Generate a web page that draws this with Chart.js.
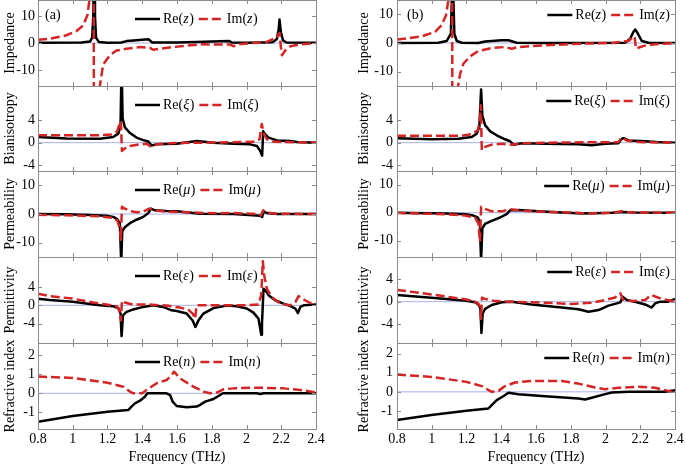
<!DOCTYPE html>
<html>
<head>
<meta charset="utf-8">
<script src="https://cdn.jsdelivr.net/npm/chart.js@4.4.1/dist/chart.umd.min.js"></script>
<style>
  body { margin: 0; background: #fff; width: 685px; height: 467px; overflow: hidden; position: relative; }
  canvas { position: absolute; }
</style>
</head>
<body>
<script>
// tick labels
const freqTicks = [0.8, 1, 1.2, 1.4, 1.6, 1.8, 2, 2.2, 2.4];
const ticksImp = [-10, 0, 10];
const ticksBian = [-4, 0, 4];
const ticksPerm = [-10, 0, 10];
const ticksEps = [-4, 0, 4];
const ticksIdx = [-1, 0, 1, 2];
const zeroLine = [[0.8, 0], [2.4, 0]];

// (a) values, [frequency THz, value]
const reZa = [[0.8,0.1],[1.05,0.2],[1.1,0.6],[1.112,2],[1.118,10],[1.123,30],[1.128,10],[1.134,2],[1.15,0.4],[1.2,0.1],[1.28,0.2],[1.31,0.7],[1.35,0.9],[1.4,1.2],[1.435,1.4],[1.447,0.8],[1.456,0.2],[1.6,0.2],[1.713,0.4],[1.8,0.6],[1.9,0.7],[1.915,0.2],[2.0,0.1],[2.15,0.3],[2.175,1.5],[2.185,5],[2.19,8.7],[2.198,4],[2.21,1],[2.23,0.2],[2.4,0.1]];
const imZa = [[0.8,1.2],[0.87,1.6],[0.96,2.8],[1.02,4.4],[1.06,6.5],[1.085,10.5],[1.1,18],[1.12,40],[1.122,-40],[1.15,-20],[1.156,-16],[1.175,-8],[1.213,-4.6],[1.252,-2.8],[1.31,-2.1],[1.387,-1.5],[1.444,-1.8],[1.463,-2.5],[1.502,-2.1],[1.579,-1.5],[1.733,-0.5],[1.906,-0.6],[1.925,-1.2],[1.963,-0.4],[2.117,0.4],[2.175,2.2],[2.19,3.8],[2.198,-1.5],[2.204,-4.6],[2.223,-2.8],[2.252,-1.2],[2.31,-0.5],[2.4,0]];
const reXa = [[0.8,1.0],[0.963,0.75],[1.156,0.7],[1.233,1.0],[1.262,1.6],[1.275,2.9],[1.281,14],[1.287,4.3],[1.3,2.7],[1.329,1.7],[1.367,0.9],[1.406,0.45],[1.435,0.2],[1.454,-0.5],[1.483,-0.3],[1.598,-0.2],[1.713,0.3],[1.81,0],[1.925,-0.2],[2.021,-0.3],[2.06,-0.6],[2.079,-1.45],[2.09,-2.3],[2.096,2.0],[2.108,1.45],[2.127,0.9],[2.175,0.4],[2.252,0.3],[2.29,0.1],[2.4,0]];
const imXa = [[0.8,1.3],[1.156,1.3],[1.223,1.45],[1.256,2.0],[1.271,3.5],[1.277,3.8],[1.283,-1.45],[1.3,-1.0],[1.329,-0.6],[1.387,-0.3],[1.425,-0.2],[1.448,-0.65],[1.483,-0.3],[1.579,-0.05],[1.75,0],[2.04,0.15],[2.075,0.6],[2.088,3.3],[2.098,1.7],[2.117,0.6],[2.156,0.15],[2.4,0]];
const reMa = [[0.8,0],[0.963,-0.1],[1.098,-0.35],[1.194,-0.6],[1.233,-1],[1.256,-1.8],[1.271,-3.2],[1.279,-17],[1.285,-6],[1.3,-4.6],[1.329,-3.2],[1.367,-2],[1.406,-1],[1.435,0.35],[1.45,1.9],[1.473,1.3],[1.54,1.05],[1.598,0.95],[1.656,0.6],[1.733,0.1],[1.925,0],[2.079,-0.6],[2.09,-1.05],[2.098,0.95],[2.117,0.35],[2.175,0],[2.4,0]];
const imMa = [[0.8,-0.25],[0.963,-0.45],[1.156,-0.8],[1.233,-1.4],[1.256,-2.2],[1.271,-5],[1.277,-9],[1.283,2.5],[1.3,1.9],[1.329,1.05],[1.367,0.6],[1.406,0.8],[1.44,1.9],[1.463,1.3],[1.54,0.8],[1.637,0.6],[1.829,0.25],[1.925,0.35],[2.06,0],[2.083,-0.5],[2.096,1.3],[2.117,0.5],[2.175,0.1],[2.4,0]];
const reEa = [[0.8,1.45],[0.867,1.15],[1.0,0.75],[1.156,0],[1.233,-0.2],[1.262,-0.6],[1.275,-1.8],[1.281,-6.7],[1.289,-2.2],[1.31,-1.45],[1.348,-0.9],[1.406,-0.35],[1.463,0],[1.521,-0.35],[1.569,-1.1],[1.598,-1.25],[1.656,-1.8],[1.69,-3.3],[1.706,-4.7],[1.723,-3.3],[1.752,-1.8],[1.81,-0.6],[1.887,-0.07],[1.944,-0.2],[2.002,-0.7],[2.04,-1.6],[2.069,-2.9],[2.085,-6.4],[2.089,-4],[2.098,3.6],[2.108,3.3],[2.127,2.2],[2.165,1.1],[2.213,0.35],[2.252,-0.15],[2.281,-0.7],[2.296,-1.7],[2.31,-0.35],[2.329,0],[2.4,0.15]];
const imEa = [[0.8,2.5],[0.867,2.0],[1.0,1.45],[1.117,0.6],[1.194,0.15],[1.252,-0.2],[1.268,-1.1],[1.277,-3.3],[1.283,1.0],[1.3,0.6],[1.348,0.15],[1.444,0.15],[1.54,-0.07],[1.617,-0.5],[1.665,-0.95],[1.69,-1.8],[1.704,-2.9],[1.713,0],[1.8,0],[2.0,0],[2.069,0.15],[2.085,2.2],[2.094,9.6],[2.102,6.5],[2.117,3.6],[2.146,1.8],[2.194,0.35],[2.252,0],[2.281,0.7],[2.3,2.0],[2.319,1.45],[2.367,0.5],[2.4,0.35]];
const reNa = [[0.8,-1.5],[1.0,-1.2],[1.2,-0.97],[1.319,-0.88],[1.338,-0.7],[1.358,-0.53],[1.387,-0.39],[1.415,-0.18],[1.429,0],[1.54,0],[1.56,-0.09],[1.575,-0.44],[1.598,-0.67],[1.656,-0.74],[1.713,-0.7],[1.733,-0.61],[1.762,-0.44],[1.81,-0.3],[1.848,-0.09],[1.864,0],[2.06,0],[2.079,-0.04],[2.098,0],[2.4,0]];
const imNa = [[0.8,0.88],[1.0,0.81],[1.2,0.56],[1.29,0.35],[1.329,0.09],[1.348,0],[1.4,0],[1.425,0.18],[1.483,0.53],[1.54,0.7],[1.569,0.96],[1.583,1.14],[1.617,0.79],[1.694,0.35],[1.752,0.09],[1.79,0],[1.829,0.04],[1.867,0.21],[1.925,0.26],[2.04,0.3],[2.213,0.26],[2.31,0.18],[2.4,0.04]];

// (b)
const reZb = [[0.8,0],[1.038,0.1],[1.086,0.7],[1.11,3.3],[1.12,25],[1.13,3.3],[1.144,0.7],[1.172,0.1],[1.268,0],[1.307,0.5],[1.345,0.7],[1.403,0.95],[1.441,0.95],[1.46,0.6],[1.489,0.1],[1.65,0],[2.113,0.1],[2.142,1.5],[2.161,3.9],[2.171,4.7],[2.186,3.3],[2.209,0.7],[2.247,0.1],[2.4,0]];
const imZb = [[0.8,1.2],[0.942,2.3],[1.019,3.9],[1.057,6.2],[1.082,9.7],[1.096,15],[1.117,40],[1.119,-40],[1.149,-16],[1.163,-10.8],[1.182,-7.25],[1.22,-4.7],[1.268,-2.8],[1.345,-1.75],[1.422,-1.4],[1.46,-2.0],[1.499,-1.4],[1.652,-0.8],[1.844,-0.25],[2.036,0],[2.132,0.7],[2.155,1.9],[2.167,2.3],[2.176,-2.0],[2.2,-1.4],[2.247,-0.6],[2.4,0]];
const reXb = [[0.8,0.8],[0.998,0.6],[1.153,0.7],[1.23,1.0],[1.259,1.6],[1.274,2.8],[1.284,9.4],[1.291,4.8],[1.307,3.1],[1.336,2.0],[1.374,1.3],[1.422,0.6],[1.451,0.25],[1.47,-0.35],[1.518,-0.1],[1.652,-0.2],[1.844,-0.3],[1.921,-0.45],[1.998,-0.2],[2.074,-0.1],[2.094,0.7],[2.105,0.8],[2.132,0.4],[2.228,0.25],[2.295,0.1],[2.4,0]];
const imXb = [[0.8,1.2],[1.172,1.2],[1.23,1.5],[1.264,2.2],[1.276,3.6],[1.282,6.6],[1.288,-1.35],[1.307,-0.75],[1.345,-0.35],[1.403,-0.2],[1.46,-0.35],[1.518,-0.1],[1.652,0],[2.074,0.1],[2.094,0.9],[2.122,0.4],[2.19,0.1],[2.4,0]];
const reMb = [[0.8,0],[1.076,-0.25],[1.192,-0.5],[1.24,-1.0],[1.264,-1.7],[1.276,-2.9],[1.284,-17],[1.291,-5.6],[1.307,-4.0],[1.345,-2.9],[1.393,-1.7],[1.431,-0.5],[1.451,0.85],[1.499,0.95],[1.614,0.5],[1.748,0.1],[1.863,-0.25],[2.036,0],[2.094,0.25],[2.17,0.1],[2.4,0]];
const imMb = [[0.8,-0.1],[1.076,-0.5],[1.192,-1.0],[1.249,-1.7],[1.268,-3.8],[1.278,-10.4],[1.284,2.1],[1.307,1.4],[1.345,0.5],[1.403,0.5],[1.451,1.3],[1.518,0.7],[1.652,0.35],[1.844,0],[1.883,-0.35],[2.036,0],[2.094,0.5],[2.151,0.1],[2.4,0]];
const reEb = [[0.8,1.2],[0.998,0.7],[1.2,0.18],[1.249,-0.1],[1.268,-0.5],[1.28,-1.2],[1.286,-5.6],[1.293,-2.1],[1.307,-1.3],[1.345,-0.6],[1.403,-0.1],[1.46,0],[1.575,-0.5],[1.748,-1.05],[1.844,-1.35],[1.902,-1.8],[1.96,-1.5],[2.017,-0.7],[2.065,-0.3],[2.086,-0.1],[2.098,0.9],[2.122,0.3],[2.17,0],[2.228,-0.5],[2.266,-1.05],[2.286,-0.3],[2.314,0],[2.362,0],[2.4,0.5]];
const imEb = [[0.8,2.1],[0.998,1.3],[1.2,0.4],[1.249,0],[1.268,-0.35],[1.278,-0.9],[1.284,-3.1],[1.289,0.7],[1.307,0.5],[1.364,0.1],[1.46,0],[1.652,-0.2],[1.806,-0.4],[1.921,-0.2],[1.998,0.3],[2.055,0.75],[2.086,1.5],[2.1,0.4],[2.151,0.1],[2.228,0.3],[2.263,1.2],[2.305,0.7],[2.353,0.3],[2.4,0]];
const reNb = [[0.8,-1.47],[0.998,-1.21],[1.2,-0.99],[1.326,-0.87],[1.345,-0.69],[1.374,-0.43],[1.412,-0.23],[1.441,-0.05],[1.499,-0.12],[1.652,-0.23],[1.844,-0.35],[1.883,-0.4],[1.921,-0.31],[1.998,-0.12],[2.036,-0.03],[2.132,0],[2.343,0],[2.4,0.09]];
const imNb = [[0.8,0.9],[0.998,0.78],[1.2,0.52],[1.288,0.3],[1.345,0],[1.384,0.05],[1.422,0.3],[1.48,0.49],[1.575,0.57],[1.748,0.57],[1.844,0.43],[1.94,0.23],[1.998,0.14],[2.074,0.21],[2.19,0.26],[2.286,0.21],[2.343,0.09],[2.382,0],[2.4,0.09]];

const FONT = "'Liberation Serif', 'Times New Roman', serif";
const RED = '#d42424';
const FRAME = '#8c8c8c';
const ZERO_BLUE = '#a8b0e6';

const rows = [
  { title: 'Impedance', sym: 'z', ticks: ticksImp,
    a: { re: reZa, im: imZa, min: -16, max: 16 }, b: { re: reZb, im: imZb, min: -15, max: 15 } },
  { title: 'Bianisotropy', sym: '\u03BE', ticks: ticksBian,
    a: { re: reXa, im: imXa, min: -5, max: 10 }, b: { re: reXb, im: imXb, min: -5, max: 10 } },
  { title: 'Permeability', sym: '\u03BC', ticks: ticksPerm,
    a: { re: reMa, im: imMa, min: -15, max: 15 }, b: { re: reMb, im: imMb, min: -15.8, max: 14.9 } },
  { title: 'Permittivity', sym: '\u03B5', ticks: ticksEps,
    a: { re: reEa, im: imEa, min: -8.2, max: 10.5 }, b: { re: reEb, im: imEb, min: -7.4, max: 8 } },
  { title: 'Refractive index', sym: 'n', ticks: ticksIdx,
    a: { re: reNa, im: imNa, min: -1.88, max: 2.65 }, b: { re: reNb, im: imNb, min: -1.94, max: 2.55 } }
];

// layout in page pixels
const rowTop = [0, 86, 171, 257, 343];
const rowBottom = [86, 171, 257, 343, 429];
const cols = [
  { key: 'a', left: 0, plotLeft: 38, plotRight: 316, label: '(a)', titlePad: 2, tickPad: 3 },
  { key: 'b', left: 345, plotLeft: 397, plotRight: 675, label: '(b)', titlePad: 11, tickPad: 4 }
];
const CANVAS_W = 345;
const MARGIN = 14;

const UP = '14px ' + FONT;
const IT = 'italic 14px ' + FONT;

function entry(ctx, x, y, pre, sym, draw) {
  ctx.font = UP;
  let w = ctx.measureText(pre + '(').width;
  if (draw) ctx.fillText(pre + '(', x, y);
  ctx.font = IT;
  if (draw) ctx.fillText(sym, x + w, y);
  w += ctx.measureText(sym).width + 0.5;
  ctx.font = UP;
  if (draw) ctx.fillText(')', x + w, y);
  w += ctx.measureText(')').width;
  return w;
}

const panelDecor = {
  id: 'panelDecor',
  afterDatasetsDraw(chart, args, o) {
    const { ctx, chartArea: a, scales } = chart;
    ctx.save();
    ctx.strokeStyle = FRAME;
    ctx.lineWidth = 1;
    ctx.setLineDash([]);
    ctx.beginPath();
    scales.x.ticks.forEach(t => {
      const px = Math.round(scales.x.getPixelForValue(t.value)) + 0.5;
      ctx.moveTo(px, a.top); ctx.lineTo(px, a.top + 4);
      ctx.moveTo(px, a.bottom); ctx.lineTo(px, a.bottom - 4);
    });
    scales.y.ticks.forEach(t => {
      const py = Math.round(scales.y.getPixelForValue(t.value)) + 0.5;
      ctx.moveTo(a.left, py); ctx.lineTo(a.left + 4, py);
      ctx.moveTo(a.right, py); ctx.lineTo(a.right - 4, py);
    });
    ctx.stroke();
    ctx.strokeRect(Math.round(a.left) + 0.5, Math.round(a.top) + 0.5,
      Math.round(a.right - a.left), Math.round(a.bottom - a.top));

    // legend
    ctx.fillStyle = '#000';
    ctx.textBaseline = 'middle';
    ctx.textAlign = 'left';
    const wRe = entry(ctx, 0, 0, 'Re', o.sym, false);
    const wIm = entry(ctx, 0, 0, 'Im', o.sym, false);
    const total = 25 + 3 + wRe + 5 + 25 + 3 + wIm;
    let x = o.right ? a.right - 5 - total : a.left + 97;
    const y = a.top + (o.right ? 15 : 19);
    ctx.lineWidth = 2.5;
    ctx.strokeStyle = '#000';
    ctx.beginPath(); ctx.moveTo(x, y); ctx.lineTo(x + 25, y); ctx.stroke();
    x += 28;
    x += entry(ctx, x, y, 'Re', o.sym, true) + 5;
    ctx.strokeStyle = RED;
    ctx.setLineDash([9, 4]);
    ctx.beginPath(); ctx.moveTo(x, y); ctx.lineTo(x + 25, y); ctx.stroke();
    ctx.setLineDash([]);
    x += 28;
    entry(ctx, x, y, 'Im', o.sym, true);

    if (o.label) {
      ctx.font = UP;
      ctx.fillText(o.label, a.left + (o.right ? 10 : 7), a.top + 15);
    }
    ctx.restore();
  }
};

const toXY = arr => arr.map(p => ({ x: p[0], y: p[1] }));

rows.forEach((row, r) => {
  const last = r === rows.length - 1;
  cols.forEach(col => {
    const d = row[col.key];
    const canvas = document.createElement('canvas');
    const top = rowTop[r] - MARGIN;
    const height = last ? 467 - top : rowBottom[r] - rowTop[r] + 2 * MARGIN;
    canvas.width = CANVAS_W;
    canvas.height = height;
    canvas.style.left = col.left + 'px';
    canvas.style.top = top + 'px';
    canvas.style.width = CANVAS_W + 'px';
    canvas.style.height = height + 'px';
    document.body.appendChild(canvas);

    new Chart(canvas, {
      type: 'line',
      data: {
        datasets: [
          { data: toXY(d.im), borderColor: RED, borderWidth: 2.5, borderDash: [9, 4], clip: 0 },
          { data: toXY(d.re), borderColor: '#000', borderWidth: 2.5, clip: 0 },
          { data: toXY(zeroLine), borderColor: ZERO_BLUE, borderWidth: 1, clip: 0 }
        ]
      },
      options: {
        responsive: false,
        animation: false,
        events: [],
        layout: { padding: { top: MARGIN, bottom: last ? 0 : MARGIN, left: 0,
          right: col.left + CANVAS_W - col.plotRight } },
        elements: { point: { radius: 0 }, line: { tension: 0, borderJoinStyle: 'round', fill: false } },
        plugins: {
          legend: { display: false },
          tooltip: { enabled: false },
          panelDecor: { sym: row.sym, right: col.key === 'b', label: r === 0 ? col.label : '' }
        },
        scales: {
          x: {
            type: 'linear', min: 0.8, max: 2.4,
            afterBuildTicks: s => { s.ticks = freqTicks.map(v => ({ value: v })); },
            afterFit: s => { s.height = last ? 38 : 0; },
            grid: { display: false, drawTicks: false },
            border: { display: false },
            ticks: { display: last, padding: 2, color: '#000', maxRotation: 0, autoSkip: false,
              font: { family: FONT, size: 14 }, callback: v => String(v) },
            title: { display: last, text: 'Frequency (THz)', color: '#000',
              font: { family: FONT, size: 14 }, padding: { top: 0, bottom: 1 } }
          },
          y: {
            min: d.min, max: d.max,
            afterBuildTicks: s => { s.ticks = row.ticks.map(v => ({ value: v })); },
            afterFit: s => { s.width = col.plotLeft - col.left; },
            grid: { display: false, drawTicks: false },
            border: { display: false },
            ticks: { padding: col.tickPad, color: '#000', font: { family: FONT, size: 14 },
              callback: v => String(v) },
            title: { display: true, text: row.title, color: '#000',
              font: { family: FONT, size: 14 }, padding: { top: col.titlePad, bottom: 0 } }
          }
        }
      },
      plugins: [panelDecor]
    });
  });
});
</script>
</body>
</html>
